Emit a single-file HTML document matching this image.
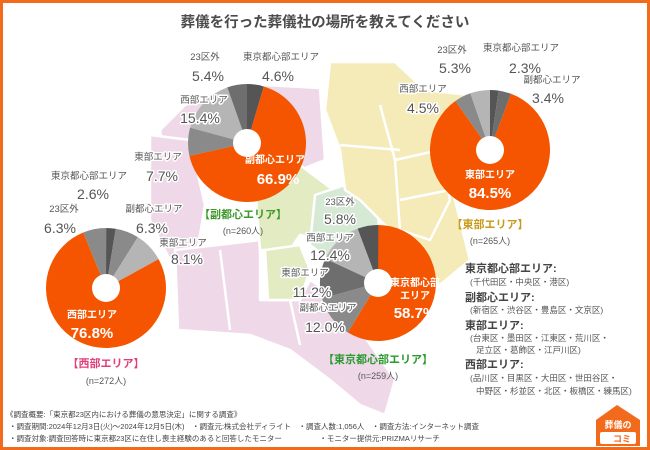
<!DOCTYPE html>
<html><head><meta charset="utf-8">
<style>
body{margin:0;}
#wrap{width:650px;height:450px;position:relative;overflow:hidden;background:#fff;}
svg text{font-family:"Liberation Sans","Noto Sans CJK JP",sans-serif;}
.halo text{paint-order:stroke;stroke:#fff;stroke-width:3px;stroke-linejoin:round;}
</style></head><body>
<div id="wrap">
<svg id="s" width="650" height="450" viewBox="0 0 650 450" xmlns="http://www.w3.org/2000/svg">
<rect x="1.5" y="1.5" width="647" height="447" fill="#fff" stroke="#f26a1b" stroke-width="3"/>
<text x="325" y="27" text-anchor="middle" font-size="14.5" font-weight="bold" fill="#4a4a4a">葬儀を行った葬儀社の場所を教えてください</text>
<g stroke="#fff" stroke-width="2.5" stroke-linejoin="round">
<polygon points="230,90 265,85 320,88 325,160 300,170 280,150 250,180 215,190 190,175 165,160 160,130 185,105" fill="#efd9e8"/>
<polygon points="150,135 190,140 205,205 195,265 170,260 150,220" fill="#efd9e8"/>
<polygon points="175,250 260,240 260,300 300,300 310,280 340,300 360,330 395,380 385,415 360,405 330,380 290,350 250,335 178,330" fill="#efd9e8"/>
<polygon points="255,185 300,165 340,195 345,230 330,240 300,235 290,250 260,250" fill="#e3ebc2"/>
<polygon points="265,250 300,245 310,270 300,300 268,300" fill="#e3ebc2"/>
<polygon points="315,195 345,185 375,200 380,230 360,250 330,260 310,245" fill="#d6e9d4"/>
<polygon points="330,62 395,62 425,90 470,95 470,160 450,180 460,220 470,260 440,285 420,280 395,270 390,230 360,200 345,190 340,150 325,110" fill="#f5ebb9"/>
<polygon points="395,160 440,150 450,200 430,240 400,230" fill="#f5ebb9"/>
<line x1="340" y1="145" x2="400" y2="150" /><line x1="380" y1="105" x2="395" y2="160"/>
<line x1="400" y1="200" x2="450" y2="190"/><line x1="360" y1="230" x2="410" y2="245"/>
<line x1="220" y1="250" x2="230" y2="330"/><line x1="290" y1="300" x2="300" y2="345"/>
</g>
<g id="pies"></g>
<g class="halo" font-size="9.5" fill="#555" text-anchor="middle">
<text x="205" y="60">23区外</text><text x="208" y="81" font-size="14">5.4%</text>
<text x="281" y="60">東京都心部エリア</text><text x="278" y="81" font-size="14">4.6%</text>
<text x="204" y="103">西部エリア</text><text x="200" y="123" font-size="14">15.4%</text>
<text x="158" y="160">東部エリア</text><text x="162" y="181" font-size="14">7.7%</text>
<text x="452" y="53">23区外</text><text x="455" y="73" font-size="14">5.3%</text>
<text x="521" y="51">東京都心部エリア</text><text x="525" y="73" font-size="14">2.3%</text>
<text x="552" y="83">副都心エリア</text><text x="548" y="103" font-size="14">3.4%</text>
<text x="423" y="92">西部エリア</text><text x="423" y="113" font-size="14">4.5%</text>
<text x="89" y="179">東京都心部エリア</text><text x="93" y="199" font-size="14">2.6%</text>
<text x="64" y="212">23区外</text><text x="60" y="233" font-size="14">6.3%</text>
<text x="154" y="212">副都心エリア</text><text x="152" y="233" font-size="14">6.3%</text>
<text x="183" y="246">東部エリア</text><text x="187" y="264" font-size="14">8.1%</text>
<text x="340" y="205">23区外</text><text x="340" y="224" font-size="14">5.8%</text>
<text x="330" y="241">西部エリア</text><text x="330" y="260" font-size="14">12.4%</text>
<text x="305" y="276">東部エリア</text><text x="312" y="297" font-size="14">11.2%</text>
<text x="328" y="311">副都心エリア</text><text x="325" y="332" font-size="14">12.0%</text>
</g>
<g fill="#fff" text-anchor="middle" font-weight="bold">
<text x="275" y="163" font-size="10">副都心エリア</text><text x="278" y="184" font-size="15">66.9%</text>
<text x="490" y="178" font-size="10">東部エリア</text><text x="490" y="198" font-size="15">84.5%</text>
<text x="92" y="318" font-size="10">西部エリア</text><text x="92" y="338" font-size="15">76.8%</text>
<text x="415" y="286" font-size="10">東京都心部</text><text x="415" y="299" font-size="10">エリア</text><text x="415" y="318" font-size="15">58.7%</text>
</g>
<g text-anchor="middle" font-size="11" font-weight="bold">
<text x="243" y="218" fill="#3d9a2a">【副都心エリア】</text>
<text x="490" y="228" fill="#c89a1a">【東部エリア】</text>
<text x="106" y="367" fill="#e0407a">【西部エリア】</text>
<text x="378" y="363" fill="#2a9a30">【東京都心部エリア】</text>
</g>
<g text-anchor="middle" font-size="9" fill="#555">
<text x="243" y="234">(n=260人)</text><text x="490" y="244">(n=265人)</text>
<text x="106" y="384">(n=272人)</text><text x="378" y="379">(n=259人)</text>
</g>
<g font-size="11" fill="#444" font-weight="bold">
<text x="465" y="272">東京都心部エリア:</text>
<text x="465" y="301">副都心エリア:</text>
<text x="465" y="329">東部エリア:</text>
<text x="465" y="368">西部エリア:</text>
</g>
<g font-size="8.5" fill="#555">
<text x="470" y="285">(千代田区・中央区・港区)</text>
<text x="470" y="313">(新宿区・渋谷区・豊島区・文京区)</text>
<text x="470" y="341">(台東区・墨田区・江東区・荒川区・</text>
<text x="476" y="353">足立区・葛飾区・江戸川区)</text>
<text x="470" y="381">(品川区・目黒区・大田区・世田谷区・</text>
<text x="476" y="394">中野区・杉並区・北区・板橋区・練馬区)</text>
</g>
<g font-size="7.5" fill="#444">
<text x="6" y="417">《調査概要:「東京都23区内における葬儀の意思決定」に関する調査》</text>
<text x="9" y="429">・調査期間:2024年12月3日(火)～2024年12月5日(木)　・調査元:株式会社ディライト　・調査人数:1,056人　・調査方法:インターネット調査</text>
<text x="9" y="441">・調査対象:調査回答時に東京都23区に在住し喪主経験のあると回答したモニター　　　　　・モニター提供元:PRIZMAリサーチ</text>
</g>
<g>
<polygon points="596,420 617,405 640,420 640,446 596,446" fill="#f26a1b"/>
<text x="618" y="428" text-anchor="middle" font-size="9" font-weight="bold" fill="#fff">葬儀の</text>
<rect x="600" y="432" width="36" height="12" fill="#fff" rx="2"/>
<text x="622" y="442" text-anchor="middle" font-size="9" font-weight="bold" fill="#f26a1b">コミ</text>
</g>
</svg>
</div>
<script>
var O="#f55500",D="#555",M="#8a8a8a",L="#b5b5b5",MD="#6e6e6e";
var pies=[
 {cx:247,cy:143,r:59,s:[[4.6,D],[66.9,O],[7.7,M],[15.4,L],[5.4,MD]]},
 {cx:490,cy:150,r:60,s:[[2.3,D],[3.4,MD],[84.5,O],[4.5,M],[5.3,L]]},
 {cx:106,cy:288,r:60,s:[[2.6,D],[6.3,M],[8.1,L],[76.8,O],[6.3,M]]},
 {cx:378,cy:283,r:58,s:[[58.7,O],[12.0,M],[11.2,MD],[12.4,L],[5.8,D]]}];
var g=document.getElementById("pies"),h="";
pies.forEach(function(p){var a=0;p.s.forEach(function(x){var a0=a/100*2*Math.PI,a1=(a+x[0])/100*2*Math.PI;a+=x[0];
var x0=p.cx+p.r*Math.sin(a0),y0=p.cy-p.r*Math.cos(a0),x1=p.cx+p.r*Math.sin(a1),y1=p.cy-p.r*Math.cos(a1);
h+='<path d="M'+p.cx+','+p.cy+'L'+x0+','+y0+'A'+p.r+','+p.r+' 0 '+(x[0]>50?1:0)+' 1 '+x1+','+y1+'Z" fill="'+x[1]+'"/>';});
h+='<circle cx="'+p.cx+'" cy="'+p.cy+'" r="14" fill="#fff"/>';});
g.innerHTML=h;
</script>
</body></html>
